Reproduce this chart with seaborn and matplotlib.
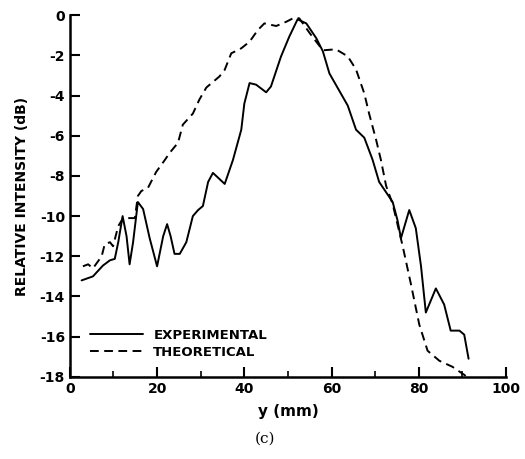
import numpy as np
import pandas as pd
import seaborn as sns
import matplotlib.pyplot as plt

# experimental curve
exp_y = [2.7, 5.3, 7.6, 9.2, 10.3, 11.1, 12.1, 13.0, 13.7, 14.5, 15.6, 16.8, 18.3, 20.0,
         21.4, 22.3, 23.1, 24.0, 25.2, 26.7, 28.2, 29.4, 30.5, 31.7, 32.8, 35.5, 37.4,
         39.3, 40.0, 41.2, 42.7, 45.0, 46.1, 48.4, 50.3, 52.2, 54.2, 56.5, 58.0, 59.5,
         63.7, 65.6, 67.5, 69.4, 70.9, 74.0, 75.1, 75.9, 77.8, 79.3, 80.5, 81.6, 83.9,
         85.8, 87.3, 89.3, 90.4, 91.4]
exp_db = [-13.2, -13.0, -12.46, -12.2, -12.13, -11.3, -10.0, -11.0, -12.4, -11.3, -9.3,
          -9.65, -11.1, -12.5, -11.0, -10.4, -11.0, -11.88, -11.88, -11.3, -10.0, -9.7,
          -9.5, -8.3, -7.85, -8.4, -7.2, -5.7, -4.4, -3.38, -3.46, -3.84, -3.55, -2.06,
          -1.07, -0.21, -0.41, -1.15, -1.8, -2.9, -4.5, -5.7, -6.1, -7.2, -8.3, -9.3,
          -10.2, -11.1, -9.7, -10.6, -12.5, -14.8, -13.6, -14.4, -15.7, -15.7, -15.9,
          -17.1]

# theoretical curve
th_y = [3.0, 4.2, 5.3, 7.3, 8.0, 9.2, 9.9, 11.1, 12.2, 14.9, 15.6, 16.4, 17.9, 19.8, 21.8,
        22.9, 24.8, 25.9, 28.2, 29.7, 31.3, 34.3, 35.5, 37.0, 39.3, 41.2, 43.1, 44.6,
        47.3, 49.6, 51.5, 52.6, 55.0, 58.0, 61.0, 63.7, 65.6, 67.5, 68.6, 70.2, 71.3,
        72.5, 74.0, 76.3, 78.2, 80.1, 82.0, 84.7, 87.7, 90.4, 91.0]
th_db = [-12.5, -12.4, -12.6, -12.0, -11.4, -11.3, -11.5, -10.5, -10.1, -10.1, -9.0,
         -8.75, -8.6, -7.8, -7.2, -6.85, -6.35, -5.45, -4.9, -4.2, -3.6, -3.05, -2.72,
         -1.9, -1.65, -1.32, -0.74, -0.41, -0.54, -0.33, -0.12, -0.16, -0.9, -1.75, -1.7,
         -2.05, -2.7, -3.9, -4.9, -6.2, -7.2, -8.5, -9.4, -11.5, -13.4, -15.4, -16.7,
         -17.2, -17.5, -17.9, -18.0]

df = pd.concat([
    pd.DataFrame({'y': exp_y, 'dB': exp_db, 'curve': 'EXPERIMENTAL'}),
    pd.DataFrame({'y': th_y, 'dB': th_db, 'curve': 'THEORETICAL'}),
])

sns.set_style("ticks")
plt.rcParams['font.family'] = ['DejaVu Sans']
plt.rcParams['axes.unicode_minus'] = False
plt.rcParams['text.color'] = 'black'
plt.rcParams['axes.labelcolor'] = 'black'
plt.rcParams['xtick.color'] = 'black'
plt.rcParams['ytick.color'] = 'black'
plt.rcParams['axes.edgecolor'] = 'black'

fig = plt.figure(figsize=(5.25, 4.59), dpi=100)
ax = fig.add_axes([0.133, 0.179, 0.831, 0.788])

sns.lineplot(data=df, x='y', y='dB', hue='curve', style='curve',
             palette=['black', 'black'], dashes=[(None, None), (4.5, 2.8)],
             linewidth=1.4, sort=False, estimator=None, ax=ax)

ax.set_xlim(0, 100)
ax.set_ylim(-18, 0)
ax.set_xticks(range(0, 101, 20))
ax.set_xticks(range(10, 100, 20), minor=True)
ax.set_yticks(range(-18, 1, 2))
ax.tick_params(direction='in', length=7, width=1.5, labelsize=10)
ax.tick_params(which='minor', direction='in', length=4, width=1.2)
for lab in ax.get_xticklabels() + ax.get_yticklabels():
    lab.set_fontweight('bold')
sns.despine(ax=ax)
for s in ['left', 'bottom']:
    ax.spines[s].set_linewidth(1.8)

ax.set_xlabel('y (mm)', fontsize=11, fontweight='bold', labelpad=6)
ax.set_ylabel('RELATIVE INTENSITY (dB)', fontsize=10, fontweight='bold', labelpad=8)

leg = ax.legend(loc='lower left', bbox_to_anchor=(0.025, 0.025), frameon=False,
                handlelength=4, fontsize=9.5, borderpad=0.2, labelspacing=0.3)
for t in leg.get_texts():
    t.set_fontweight('bold')

fig.text(0.505, 0.035, '(c)', ha='center', fontsize=11, family='DejaVu Serif')

fig.savefig('out.png', dpi=100)
